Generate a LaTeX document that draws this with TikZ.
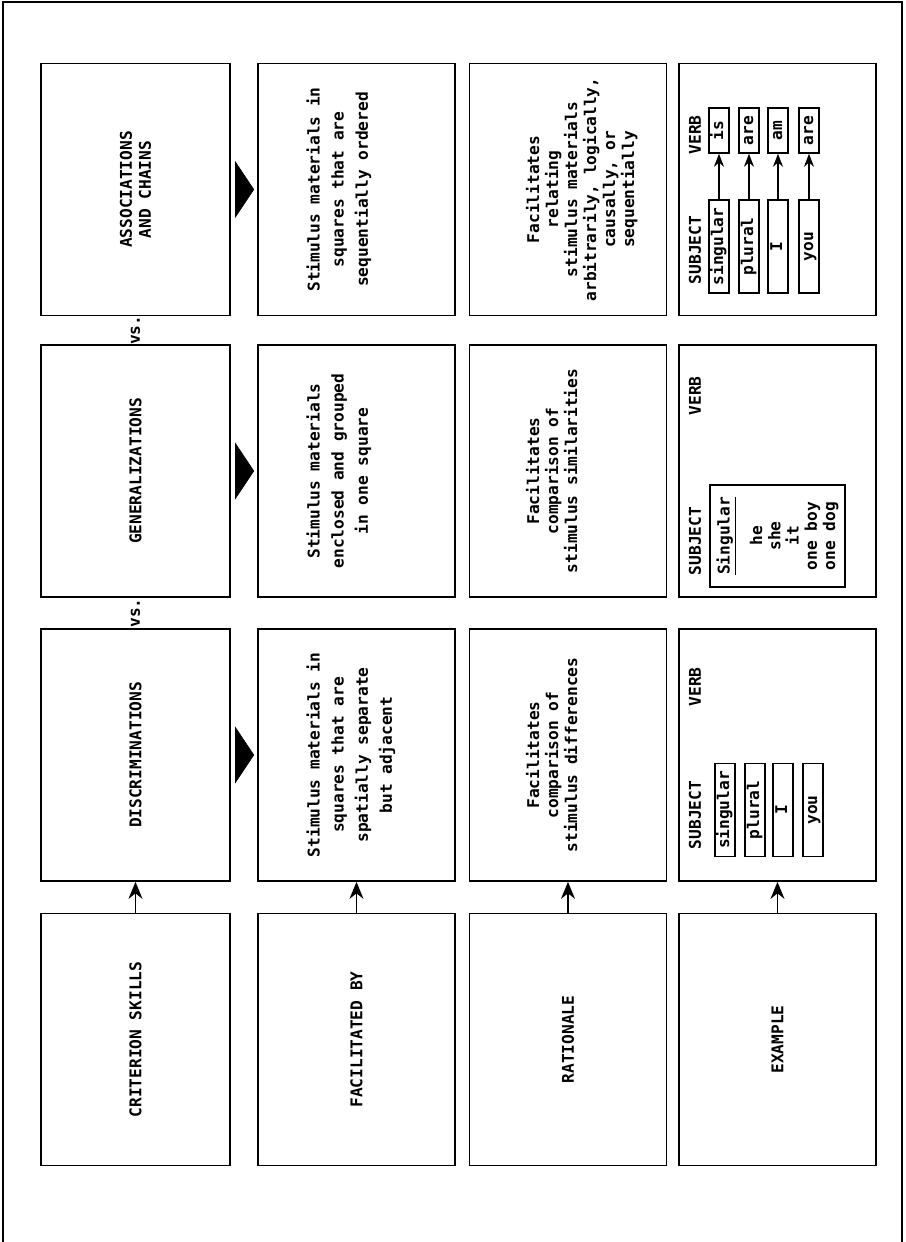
\documentclass[tikz,border=0pt]{standalone}
\usepackage{fontspec}
\setmonofont{DejaVu Sans Mono}
\usetikzlibrary{positioning, arrows.meta, calc}

\begin{document}
\begin{tikzpicture}[rotate=90, transform shape,
    font=\ttfamily\bfseries\fontsize{9.2}{11}\selectfont,
    cell/.style={draw, line width=1pt, minimum width=5.04cm, minimum height=3.94cm,
                 align=center, inner sep=0pt},
    head/.style={cell, minimum height=3.78cm,
                 font=\ttfamily\bfseries\fontsize{9.2}{10.8}\selectfont},
    fac/.style={align=center, inner sep=0pt,
                font=\ttfamily\bfseries\fontsize{9.2}{13.7}\selectfont},
    why/.style={align=center, inner sep=0pt,
                font=\ttfamily\bfseries\fontsize{9.2}{10.8}\selectfont},
    tag/.style={inner sep=0pt},
    wbox/.style={draw, line width=0.9pt, inner sep=0pt, minimum height=0.4cm,
                 text height=6.8pt, text depth=2pt},
    subj/.style={wbox, minimum width=1.86cm},
    verb/.style={wbox, minimum width=0.9cm},
    up/.style={-{Stealth[length=3.4mm, width=2.8mm]}, line width=0.9pt},
    link/.style={-{Stealth[length=2.6mm, width=2mm]}, line width=0.8pt},
    tri/.style={-{Triangle[length=3.8mm, width=11.4mm]}, shorten <=1.2mm, shorten >=0.6mm}]

  \useasboundingbox (0,0) rectangle (24.84,18.12);
  \draw[line width=1pt] (0,18.06) -- (24.8,18.06) -- (24.8,0.08) -- (0,0.08);

  % criterion skills
  \node[head] (skill4) at (4.05,15.41) {CRITERION SKILLS};
  \node[head] (skill3) at (9.74,15.41) {DISCRIMINATIONS};
  \node[head] (skill2) at (15.42,15.41) {GENERALIZATIONS};
  \node[head] (skill1) at (21.05,15.41) {ASSOCIATIONS\\AND CHAINS};
  \node (vs1) at ($(skill3.east)!0.5!(skill2.west)$) {vs.};
  \node (vs2) at ($(skill2.east)!0.5!(skill1.west)$) {vs.};

  % facilitated by
  \node[cell] (fac4) at (4.05,10.99) {FACILITATED BY};
  \node[cell] (fac3) at (9.74,10.99) {};
  \node[cell] (fac2) at (15.42,10.99) {};
  \node[cell] (fac1) at (21.05,10.99) {};
  \node[fac, below=9.8mm of fac3.north] (factxt3) {Stimulus materials in\\squares that are\\spatially separate\\but adjacent};
  \node[fac, below=9.8mm of fac2.north] (factxt2) {Stimulus materials\\enclosed and grouped\\in one square};
  \node[fac, below=9.8mm of fac1.north] (factxt1) {Stimulus materials in\\squares that are\\sequentially ordered};

  % rationale
  \node[cell] (why4) at (4.05,6.76) {RATIONALE};
  \node[cell] (why3) at (9.74,6.76) {};
  \node[cell] (why2) at (15.42,6.76) {};
  \node[cell] (why1) at (21.05,6.76) {};
  \node[why, below=11.4mm of why3.north] (whytxt3) {Facilitates\\comparison of\\stimulus differences};
  \node[why, below=11.4mm of why2.north] (whytxt2) {Facilitates\\comparison of\\stimulus similarities};
  \node[why, below=11.4mm of why1.north] (whytxt1) {Facilitates\\relating\\stimulus materials\\arbitrarily, logically,\\causally, or\\sequentially};

  % example
  \node[cell] (ex4) at (4.05,2.57) {EXAMPLE};
  \node[cell] (ex3) at (9.74,2.57) {};
  \node[cell] (ex2) at (15.42,2.57) {};
  \node[cell] (ex1) at (21.05,2.57) {};

  \node[tag] (subj3) at (8.54,4.22) {SUBJECT};
  \node[tag] (verb3) at (11.1,4.22) {VERB};
  \foreach \sw/\y [count=\i] in {singular/3.62, plural/3.02, I/2.46, you/1.86}
    \node[subj] (s3\i) at (8.64,\y) {\sw};

  \node[tag] (subj2) at (14.02,4.22) {SUBJECT};
  \node[tag] (verb2) at (16.92,4.22) {VERB};
  \node[draw, line width=0.9pt, minimum width=2.04cm, minimum height=2.7cm, align=center,
        inner sep=0pt, font=\ttfamily\bfseries\fontsize{9.2}{10.4}\selectfont] (grp2)
        at (14.12,2.57) {\underline{Singular}\\[2.3mm]he\\she\\it\\one boy\\one dog};

  \node[tag] (subj1) at (19.84,4.22) {SUBJECT};
  \node[tag] (verb1) at (22.14,4.22) {VERB};
  \foreach \sw/\vw/\y [count=\i] in {singular/is/3.74, plural/are/3.14, I/am/2.56, you/are/1.94} {
    \node[subj] (s1\i) at (19.91,\y) {\sw};
    \node[verb] (v1\i) at (22.23,\y) {\vw};
    \draw[link] (s1\i) -- (v1\i);
  }

  \foreach \c in {skill,fac,why,ex} \draw[up] (\c4) -- (\c3);
  \foreach \n in {1,2,3} \draw[tri] (skill\n) -- (fac\n);
\end{tikzpicture}
\end{document}
